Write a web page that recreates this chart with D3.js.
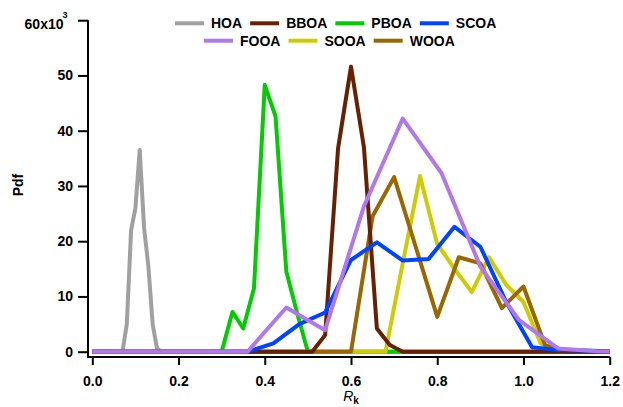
<!DOCTYPE html>
<html>
<head>
  <meta charset="utf-8"/>
  <style>
    body { margin: 0; background: #fff; }
    svg { display: block; }
    text { font-family: "Liberation Sans", Arial, sans-serif; }
  </style>
</head>
<body>
  <div id="chart"></div>
  <script src="https://d3js.org/d3.v7.min.js"></script>
  <script>
    // legend order
    let names = ['HOA', 'BBOA', 'PBOA', 'SCOA', 'FOOA', 'SOOA', 'WOOA'];
    let colors = ['#a0a0a0', '#662200', '#00cc00', '#0044ff', '#b078e8', '#cccc00', '#996600'];

    // R_k bins and Pdf values (x10^3) per factor
    let hoaR   = [0, 0.07, 0.08, 0.09, 0.10, 0.11, 0.12, 0.13, 0.14, 0.15, 0.16, 1.2];
    let hoaPdf = [0, 0, 5, 22, 26, 36.5, 22.5, 15.5, 5, 0.6, 0, 0];
    let bboaR   = [0, 0.51, 0.54, 0.57, 0.60, 0.63, 0.66, 0.69, 0.72, 1.2];
    let bboaPdf = [0, 0, 3, 36.8, 51.6, 37, 4.2, 1.2, 0, 0];
    let pboaR   = [0, 0.30, 0.325, 0.35, 0.375, 0.40, 0.425, 0.45, 0.475, 0.50, 1.2];
    let pboaPdf = [0, 0, 7.2, 4.2, 11.5, 48.3, 42.6, 14.5, 7, 0, 0];
    let scoaR   = [0, 0.36, 0.42, 0.48, 0.54, 0.60, 0.66, 0.72, 0.78, 0.84, 0.90, 0.96, 1.02, 1.08, 1.14, 1.2];
    let scoaPdf = [0, 0, 1.5, 5, 7.1, 16.6, 19.8, 16.5, 16.8, 22.6, 19, 9, 0.8, 0.3, 0.2, 0.1];
    let fooaR   = [0, 0.36, 0.45, 0.54, 0.63, 0.72, 0.81, 0.90, 0.99, 1.08, 1.17, 1.2];
    let fooaPdf = [0, 0, 8, 3.9, 26.3, 42.2, 32.3, 15.4, 5.7, 0.6, 0.1, 0.05];
    let sooaR   = [0, 0.68, 0.72, 0.76, 0.80, 0.84, 0.88, 0.92, 0.96, 1.00, 1.04, 1.08, 1.2];
    let sooaPdf = [0, 0, 16, 31.8, 19.5, 15, 10.8, 17.1, 12.1, 9, 1.5, 0, 0];
    let wooaR   = [0, 0.60, 0.65, 0.70, 0.75, 0.80, 0.85, 0.90, 0.95, 1.00, 1.05, 1.10, 1.2];
    let wooaPdf = [0, 0, 24.5, 31.6, 19, 6.3, 17.1, 16, 7.9, 11.8, 1.2, 0, 0];

    let xTicks = [0, 0.2, 0.4, 0.6, 0.8, 1.0, 1.2];
    let yTicks = [0, 10, 20, 30, 40, 50, 60];

    let seriesR = {HOA: hoaR, BBOA: bboaR, PBOA: pboaR, SCOA: scoaR, FOOA: fooaR, SOOA: sooaR, WOOA: wooaR};
    let seriesPdf = {HOA: hoaPdf, BBOA: bboaPdf, PBOA: pboaPdf, SCOA: scoaPdf, FOOA: fooaPdf, SOOA: sooaPdf, WOOA: wooaPdf};
    // drawing order, bottom to top
    let drawOrder = ['HOA', 'PBOA', 'SOOA', 'WOOA', 'BBOA', 'SCOA', 'FOOA'];

    let width = 623, height = 407;
    let axisX = 88, axisY = 357;

    let svg = d3.select('#chart')
        .append('svg')
        .attr('width', width)
        .attr('height', height);

    let x = d3.scaleLinear().domain([0, 1.2]).range([92.3, 609.7]);
    let y = d3.scaleLinear().domain([0, 60]).range([351.7, 20.2]);
    let color = d3.scaleOrdinal(names, colors);

    // axes lines (offset from the plot area)
    svg.append('path')
        .attr('d', 'M' + axisX + ',' + y(60) + 'V' + axisY + 'H' + x(1.2))
        .attr('fill', 'none')
        .attr('stroke', 'black')
        .attr('stroke-width', 2);

    let xAxis = svg.append('g')
        .attr('transform', 'translate(0,' + axisY + ')')
        .call(d3.axisBottom(x).tickValues(xTicks).tickFormat(d3.format('.1f'))
          .tickSize(8).tickPadding(11.5));
    xAxis.select('.domain').remove();

    let yAxis = svg.append('g')
        .attr('transform', 'translate(' + axisX + ',0)')
        .call(d3.axisLeft(y).tickValues(yTicks).tickSize(10).tickPadding(5)
          .tickFormat(d => d === 60 ? '' : d));
    yAxis.select('.domain').remove();

    svg.selectAll('.tick line').attr('stroke', 'black').attr('stroke-width', 2);
    svg.selectAll('.tick text')
        .attr('fill', 'black')
        .style('font-family', '"Liberation Sans", Arial, sans-serif')
        .style('font-size', '14px')
        .style('font-weight', 'bold');

    // top label 60x10^3
    svg.append('text')
        .attr('x', 63.5)
        .attr('y', 28.5)
        .attr('text-anchor', 'end')
        .style('font-size', '14px')
        .style('font-weight', 'bold')
        .text('60x10');
    svg.append('text')
        .attr('x', 62.5)
        .attr('y', 18)
        .style('font-size', '9px')
        .style('font-weight', 'bold')
        .text('3');

    // axis titles
    svg.append('text')
        .attr('transform', 'translate(23,185) rotate(-90)')
        .attr('text-anchor', 'middle')
        .style('font-size', '14px')
        .style('font-weight', 'bold')
        .text('Pdf');

    let xt = svg.append('text')
        .attr('x', 351)
        .attr('y', 401)
        .attr('text-anchor', 'middle')
        .style('font-size', '14px');
    xt.append('tspan').style('font-style', 'italic').text('R');
    xt.append('tspan').attr('dy', 3).style('font-size', '10px').style('font-weight', 'bold').text('k');

    // curves
    let line = d3.line()
        .x(d => x(d[0]))
        .y(d => y(d[1]));

    svg.append('g')
        .selectAll('path')
        .data(drawOrder)
        .enter()
        .append('path')
        .attr('d', n => line(d3.zip(seriesR[n], seriesPdf[n])))
        .attr('fill', 'none')
        .attr('stroke', n => color(n))
        .attr('stroke-width', 4)
        .attr('stroke-linejoin', 'round');

    // legend
    let rows = [{names: names.slice(0, 4), x: 175, y: 23.3}, {names: names.slice(4), x: 204, y: 40.7}];
    rows.forEach(function (row) {
      let cx = row.x;
      row.names.forEach(function (n) {
        svg.append('line')
            .attr('x1', cx).attr('x2', cx + 29)
            .attr('y1', row.y).attr('y2', row.y)
            .attr('stroke', color(n))
            .attr('stroke-width', 4);
        let t = svg.append('text')
            .attr('x', cx + 36)
            .attr('y', row.y + 5)
            .style('font-size', '14px')
            .style('font-weight', 'bold')
            .text(n);
        cx += 36 + t.node().getComputedTextLength() + 8;
      });
    });
  </script>
</body>
</html>
